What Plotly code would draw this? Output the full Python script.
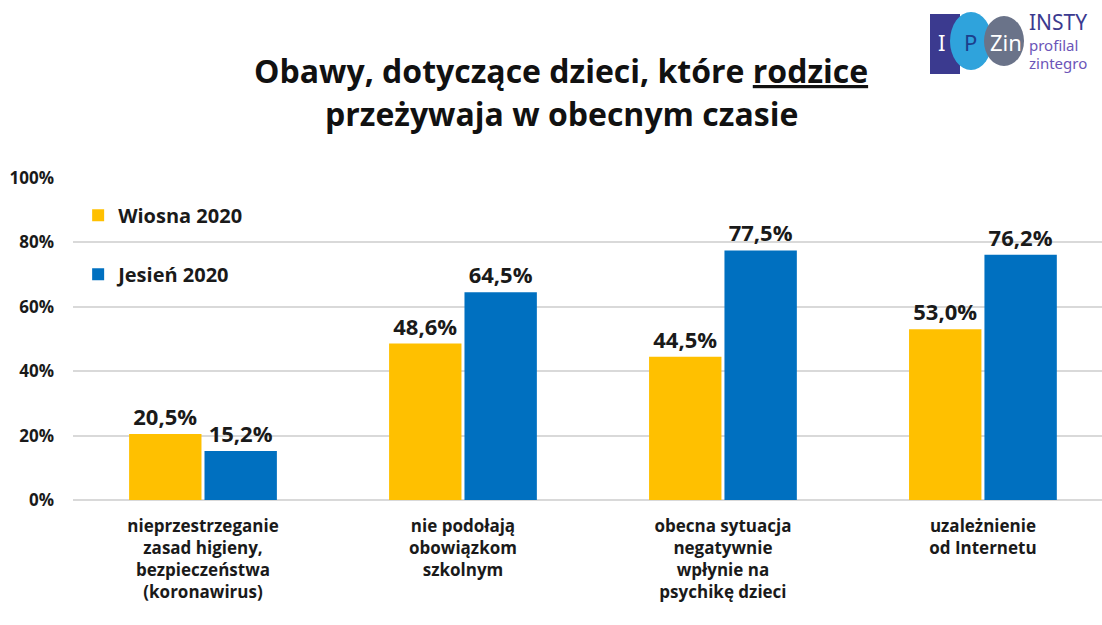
import plotly.graph_objects as go

categories = [
    "nieprzestrzeganie<br>zasad higieny,<br>bezpieczeństwa<br>(koronawirus)",
    "nie podołają<br>obowiązkom<br>szkolnym",
    "obecna sytuacja<br>negatywnie<br>wpłynie na<br>psychikę dzieci",
    "uzależnienie<br>od Internetu",
]
wiosna = [20.5, 48.6, 44.5, 53.0]
jesien = [15.2, 64.5, 77.5, 76.2]
series_names = ["Wiosna 2020", "Jesień 2020"]
y_ticks = [0, 20, 40, 60, 80, 100]
y_ticktext = [f"{v}%" for v in y_ticks]

FONT = "Open Sans"
x_idx = list(range(len(categories)))

fig = go.Figure()
fig.add_trace(go.Bar(
    x=x_idx, y=wiosna, name=series_names[0], legendgroup="a",
    marker=dict(color="#FFC000", line=dict(width=0)),
    texttemplate="%{y:.1f}%", textposition="outside", cliponaxis=False,
    textfont=dict(family=FONT, size=22, color="#1a1a1a", weight="bold"),
))
fig.add_trace(go.Bar(
    x=x_idx, y=jesien, name=series_names[1], legendgroup="b",
    marker=dict(color="#0070C0", line=dict(width=0)),
    texttemplate="%{y:.1f}%", textposition="outside", cliponaxis=False,
    textfont=dict(family=FONT, size=22, color="#1a1a1a", weight="bold"),
))

fig.update_layout(
    width=1102, height=625,
    margin=dict(l=73, r=0, t=178, b=125, autoexpand=False),
    paper_bgcolor="white", plot_bgcolor="white",
    separators=", ",
    barmode="group", bargap=0.42, bargroupgap=0.04,
    font=dict(family=FONT, color="#1a1a1a"),
    showlegend=True,
    legend=dict(
        x=0.005, y=0.945, xanchor="left", yanchor="top",
        bgcolor="rgba(0,0,0,0)", tracegroupgap=30,
        font=dict(family=FONT, size=20, color="#1a1a1a", weight="bold"),
        itemwidth=30,
    ),
    xaxis=dict(
        range=[-0.5, 3.458], tickmode="array", tickvals=x_idx, ticktext=categories,
        showgrid=False, zeroline=False, showline=False, ticks="", automargin=False,
        ticklabelstandoff=14,
        tickfont=dict(family=FONT, size=17, color="#1a1a1a", weight="bold"),
    ),
    yaxis=dict(
        range=[0, 100], tickmode="array", tickvals=y_ticks, ticktext=y_ticktext,
        showgrid=True, gridcolor="#D9D9D9", gridwidth=1.5,
        zeroline=True, zerolinecolor="#D9D9D9", zerolinewidth=1.5,
        showline=False, ticks="", ticklabelstandoff=18, automargin=False,
        tickfont=dict(family=FONT, size=17, color="#1a1a1a", weight="bold"),
    ),
)

# Title
PX = lambda x: (x - 73) / 1029
PY = lambda y: 1 + (178 - y) / 322
TITLE_FONT = dict(family=FONT, size=32, color="#111111", weight="bold")
fig.add_annotation(
    xref="paper", yref="paper", x=PX(561), y=PY(70), xanchor="center", yanchor="middle",
    text="Obawy, dotyczące dzieci, które <span style='text-decoration:underline'>rodzice</span>",
    showarrow=False, font=TITLE_FONT,
)
fig.add_annotation(
    xref="paper", yref="paper", x=PX(561), y=PY(113), xanchor="center", yanchor="middle",
    text="przeżywaja w obecnym czasie",
    showarrow=False, font=TITLE_FONT,
)

# Logo (approximate)
fig.add_shape(type="rect", xref="paper", yref="paper", x0=PX(930), x1=PX(960),
              y0=PY(74), y1=PY(14), fillcolor="#3b3a8f", line=dict(width=0), layer="below")
fig.add_shape(type="circle", xref="paper", yref="paper", x0=PX(950), x1=PX(992),
              y0=PY(70), y1=PY(12), fillcolor="#2fa3dc", line=dict(width=0), layer="below")
fig.add_shape(type="circle", xref="paper", yref="paper", x0=PX(984), x1=PX(1024),
              y0=PY(66), y1=PY(16), fillcolor="#6a7389", line=dict(width=0), layer="below")
for txt, xc, col in [("I", 941, "white"), ("P", 970, "#1c3f8c"), ("Zin", 1006, "white")]:
    fig.add_annotation(xref="paper", yref="paper", x=PX(xc), y=PY(42), xanchor="center", yanchor="middle",
                       text=txt, showarrow=False, font=dict(family="Noto Sans", size=22, color=col))
fig.add_annotation(xref="paper", yref="paper", x=PX(1027), y=PY(22), xanchor="left", yanchor="middle",
                   text="INSTY", showarrow=False, font=dict(family="Noto Sans", size=21, color="#3b3a8f"))
fig.add_annotation(xref="paper", yref="paper", x=PX(1027), y=PY(45), xanchor="left", yanchor="middle",
                   text="profilal", showarrow=False, font=dict(family="Noto Sans", size=15, color="#6b55b8"))
fig.add_annotation(xref="paper", yref="paper", x=PX(1027), y=PY(63), xanchor="left", yanchor="middle",
                   text="zintegro", showarrow=False, font=dict(family="Noto Sans", size=15, color="#6b55b8"))

fig.write_html("out.html", config={"displayModeBar": False},
               post_script="document.body.style.margin='0px';document.body.style.overflow='hidden';")
